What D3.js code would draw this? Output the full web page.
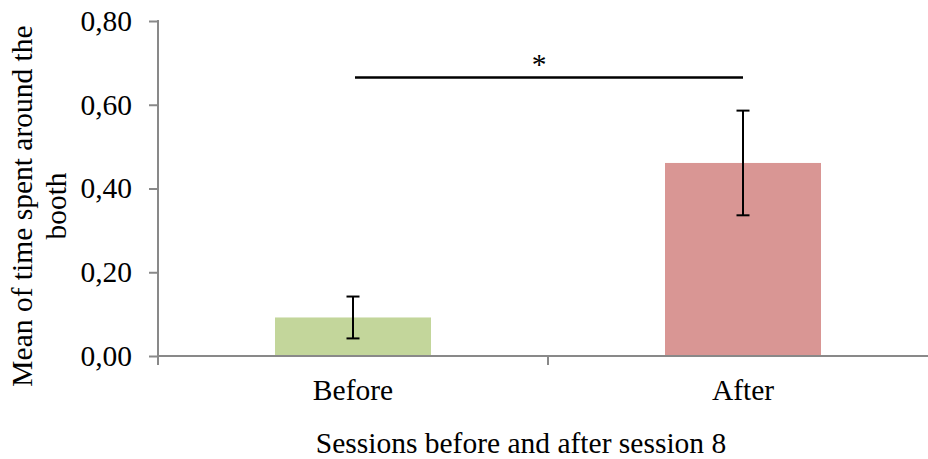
<!DOCTYPE html>
<html>
<head>
<meta charset="utf-8">
<script src="https://cdn.jsdelivr.net/npm/d3@7"></script>
<style>
  html, body { margin: 0; padding: 0; background: #fff; }
  svg { display: block; }
  text { font-family: "Liberation Serif", "Times New Roman", serif; fill: #000; }
</style>
</head>
<body>
<svg id="chart" width="928" height="459"></svg>
<script>
// Mean time spent around the booth, before and after session 8
const categories = ["Before", "After"];
const means = [0.092, 0.461];
const errors = [0.050, 0.125];
const barColors = ["#c3d69b", "#d99694"];
const yTicks = [0, 0.2, 0.4, 0.6, 0.8];
const yTickLabels = ["0,00", "0,20", "0,40", "0,60", "0,80"];
const xTitle = "Sessions before and after session 8";
const yTitleLines = ["Mean of time spent around the", "booth"];
const significance = "*";

const fontSize = 29.5;
const svg = d3.select("#chart");
const plot = { left: 158, right: 938, top: 21, bottom: 356 };

const x = d3.scaleBand()
  .domain(categories)
  .range([plot.left, plot.right])
  .paddingInner(0.6)
  .paddingOuter(0.3);

const y = d3.scaleLinear()
  .domain([0, 0.8])
  .range([plot.bottom, plot.top]);

const axisColor = "#898989";

// Bars
svg.append("g").selectAll("rect")
  .data(categories)
  .join("rect")
  .attr("x", d => x(d))
  .attr("width", x.bandwidth())
  .attr("y", (d, i) => y(means[i]))
  .attr("height", (d, i) => y(0) - y(means[i]))
  .attr("fill", (d, i) => barColors[i]);

// Y axis
const yAxis = d3.axisLeft(y)
  .tickValues(yTicks)
  .tickFormat((d, i) => yTickLabels[i])
  .tickSize(9)
  .tickPadding(17);
const gy = svg.append("g")
  .attr("transform", `translate(${plot.left},0)`)
  .call(yAxis);
gy.select(".domain").remove();
gy.selectAll(".tick line").attr("stroke", axisColor).attr("stroke-width", 2);
gy.selectAll(".tick text")
  .attr("font-size", fontSize)
  .attr("font-family", "Liberation Serif, Times New Roman, serif")
  .attr("fill", "#000");
gy.append("line")
  .attr("x1", 0).attr("x2", 0)
  .attr("y1", plot.top - 1).attr("y2", plot.bottom + 9)
  .attr("stroke", axisColor).attr("stroke-width", 2);

// X axis: baseline with category boundary ticks
const gx = svg.append("g");
gx.append("line")
  .attr("x1", plot.left).attr("x2", plot.right)
  .attr("y1", y(0)).attr("y2", y(0))
  .attr("stroke", axisColor).attr("stroke-width", 2);
const step = x.step();
const boundaries = categories.map((d, i) => x(d) + x.bandwidth() / 2 + step / 2).slice(0, -1);
gx.selectAll("line.bound")
  .data(boundaries)
  .join("line")
  .attr("class", "bound")
  .attr("x1", d => d).attr("x2", d => d)
  .attr("y1", y(0)).attr("y2", y(0) + 9)
  .attr("stroke", axisColor).attr("stroke-width", 2);
gx.selectAll("text")
  .data(categories)
  .join("text")
  .attr("x", d => x(d) + x.bandwidth() / 2)
  .attr("y", 400)
  .attr("text-anchor", "middle")
  .attr("font-size", fontSize)
  .text(d => d);

// Error bars
const cap = 6.5;
const eb = svg.append("g").attr("stroke", "#000").attr("stroke-width", 2);
categories.forEach((d, i) => {
  const cx = x(d) + x.bandwidth() / 2;
  const yHi = y(means[i] + errors[i]);
  const yLo = y(means[i] - errors[i]);
  eb.append("line").attr("x1", cx).attr("x2", cx).attr("y1", yHi).attr("y2", yLo);
  eb.append("line").attr("x1", cx - cap).attr("x2", cx + cap).attr("y1", yHi).attr("y2", yHi);
  eb.append("line").attr("x1", cx - cap).attr("x2", cx + cap).attr("y1", yLo).attr("y2", yLo);
});

// Significance bracket between the two bar centres
const c0 = x(categories[0]) + x.bandwidth() / 2;
const c1 = x(categories[1]) + x.bandwidth() / 2;
svg.append("line")
  .attr("x1", c0 + 2).attr("x2", c1)
  .attr("y1", 77.5).attr("y2", 77.5)
  .attr("stroke", "#000").attr("stroke-width", 2.5);
svg.append("text")
  .attr("x", (c0 + c1) / 2 - 9)
  .attr("y", 74)
  .attr("text-anchor", "middle")
  .attr("font-size", fontSize)
  .text(significance);

// Axis titles
svg.append("text")
  .attr("x", 521)
  .attr("y", 453)
  .attr("text-anchor", "middle")
  .attr("font-size", fontSize)
  .text(xTitle);

const yt = svg.append("text")
  .attr("transform", "translate(0,206) rotate(-90)")
  .attr("text-anchor", "middle")
  .attr("font-size", fontSize);
yt.selectAll("tspan")
  .data(yTitleLines)
  .join("tspan")
  .attr("x", 0)
  .attr("y", (d, i) => 32 + i * 34)
  .text(d => d);
</script>
</body>
</html>
